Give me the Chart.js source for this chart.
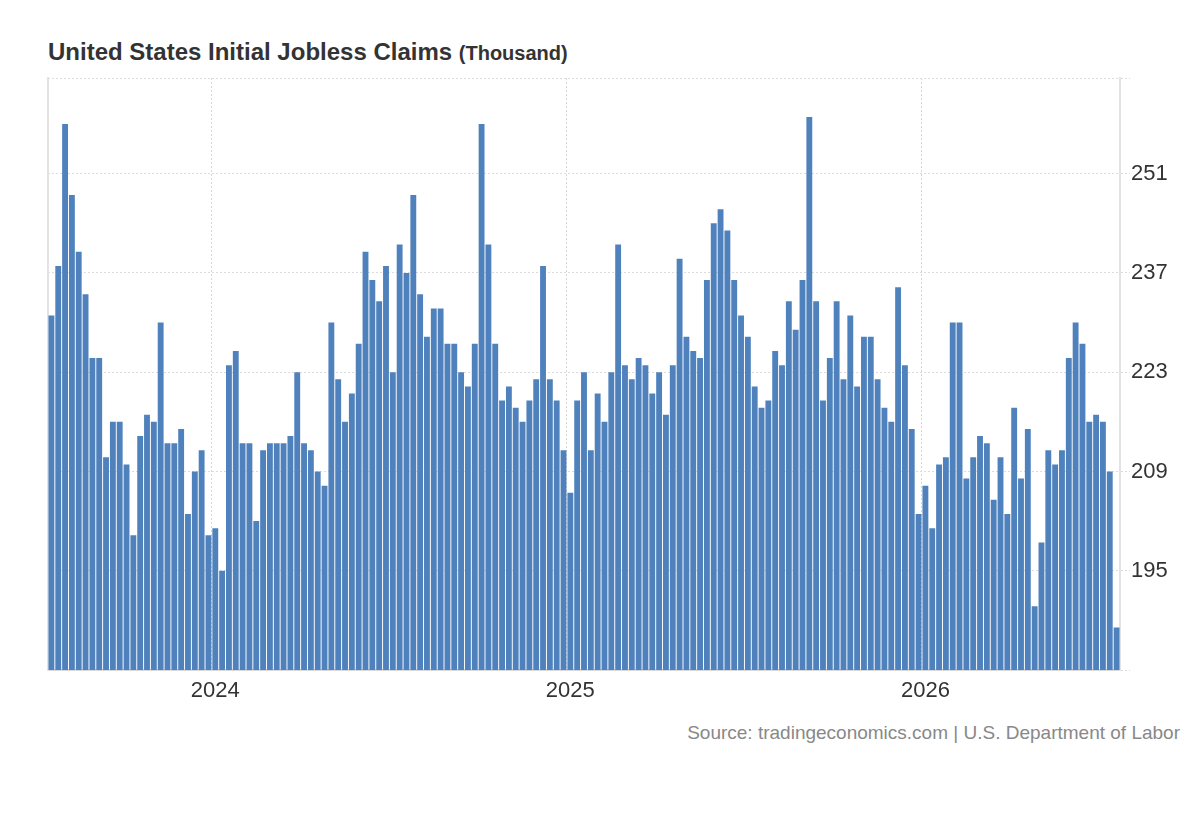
<!DOCTYPE html>
<html>
<head>
<meta charset="utf-8">
<script src="https://cdn.jsdelivr.net/npm/chart.js@4.4.1/dist/chart.umd.min.js"></script>
<style>
  body { margin: 0; background: #fff; font-family: "Liberation Sans", Arial, sans-serif; }
  #title { position: absolute; left: 48px; top: 38px; line-height: 28px; color: #333; font-weight: bold; font-size: 24px; white-space: nowrap; }
  #title small { font-size: 20px; }
  #wrap { position: absolute; left: 0; top: 0; width: 1200px; height: 720px; }
  #source { position: absolute; right: 20px; top: 720px; line-height: 26px; font-size: 19px; color: #888; white-space: nowrap; }
</style>
</head>
<body>
<div id="title">United States Initial Jobless Claims <small>(Thousand)</small></div>
<div id="wrap"><canvas id="grafico"></canvas></div>
<div id="source">Source: tradingeconomics.com | U.S. Department of Labor</div>
<script>
// weekly initial claims, thousands
const claims = [
  231, 238, 258, 248, 240, 234, 225, 225, 211, 216, 216, 210, 200, 214, 217, 216,
  230, 213, 213, 215, 203, 209, 212, 200, 201, 195, 224, 226, 213, 213, 202, 212,
  213, 213, 213, 214, 223, 213, 212, 209, 207, 230, 222, 216, 220, 227, 240, 236,
  233, 238, 223, 241, 237, 248, 234, 228, 232, 232, 227, 227, 223, 221, 227, 258,
  241, 227, 219, 221, 218, 216, 219, 222, 238, 222, 219, 212, 206, 219, 223, 212,
  220, 216, 223, 241, 224, 222, 225, 224, 220, 223, 217, 224, 239, 228, 226, 225,
  236, 244, 246, 243, 236, 231, 228, 221, 218, 219, 226, 224, 233, 229, 236, 259,
  233, 219, 225, 233, 222, 231, 221, 228, 228, 222, 218, 216, 235, 224, 215, 203,
  207, 201, 210, 211, 230, 230, 208, 211, 214, 213, 205, 211, 203, 218, 208, 215,
  190, 199, 212, 210, 212, 225, 230, 227, 216, 217, 216, 209, 187
];

// week-ending dates, first one 2023-07-22
const firstWeek = new Date(Date.UTC(2023, 6, 22));
const weeks = claims.map((_, i) => {
  const d = new Date(firstWeek.getTime() + i * 7 * 86400000);
  return d.toISOString().slice(0, 10);
});

const yearLabels = ['2024', '2025', '2026'];
const yearIndex = [24, 76, 128];
const yTicks = [195, 209, 223, 237, 251];
const yMin = 181;
const yMax = 264.5;

const ctx = document.getElementById('grafico').getContext('2d');

new Chart(ctx, {
  type: 'bar',
  data: {
    labels: weeks,
    datasets: [{
      label: 'Initial Jobless Claims',
      data: claims,
      backgroundColor: '#4f82bd',
      barPercentage: 0.86,
      categoryPercentage: 1.0
    }]
  },
  options: {
    responsive: true,
    maintainAspectRatio: false,
    animation: false,
    layout: { padding: { top: 78, left: 48, right: 0, bottom: 0 } },
    plugins: {
      legend: { display: false },
      tooltip: { enabled: false }
    },
    scales: {
      x: {
        grid: {
          drawTicks: false,
          color: c => yearIndex.includes(c.index) ? '#d6d6d6' : 'transparent'
        },
        border: { display: true, color: '#d9d9d9', width: 2, dash: [2, 2] },
        ticks: {
          autoSkip: false,
          maxRotation: 0,
          minRotation: 0,
          padding: 8,
          color: '#333',
          font: { family: '"Liberation Sans", Arial, sans-serif', size: 22 },
          callback: (v, i) => {
            const k = yearIndex.indexOf(i);
            return k >= 0 ? yearLabels[k] : '';
          }
        },
        afterFit: s => { s.height = 50; }
      },
      y: {
        position: 'right',
        min: yMin,
        max: yMax,
        grid: {
          color: '#dcdcdc',
          tickLength: 10,
          tickColor: '#dcdcdc',
          tickBorderDash: [2, 2]
        },
        border: { display: true, color: '#e3e3e3', width: 2, dash: [2, 2] },
        ticks: {
          padding: 1,
          color: '#333',
          font: { family: '"Liberation Sans", Arial, sans-serif', size: 22 },
          callback: v => yTicks.includes(v) ? v : ''
        },
        afterBuildTicks: s => {
          s.ticks = [yMin, ...yTicks, yMax].map(v => ({ value: v }));
        },
        afterFit: s => { s.width = 80; }
      },
      yL: {
        position: 'left',
        min: yMin,
        max: yMax,
        grid: { display: false },
        border: { display: true, color: '#e3e3e3', width: 2 },
        ticks: { display: false },
        afterFit: s => { s.width = 0; }
      }
    }
  }
});
</script>
</body>
</html>
